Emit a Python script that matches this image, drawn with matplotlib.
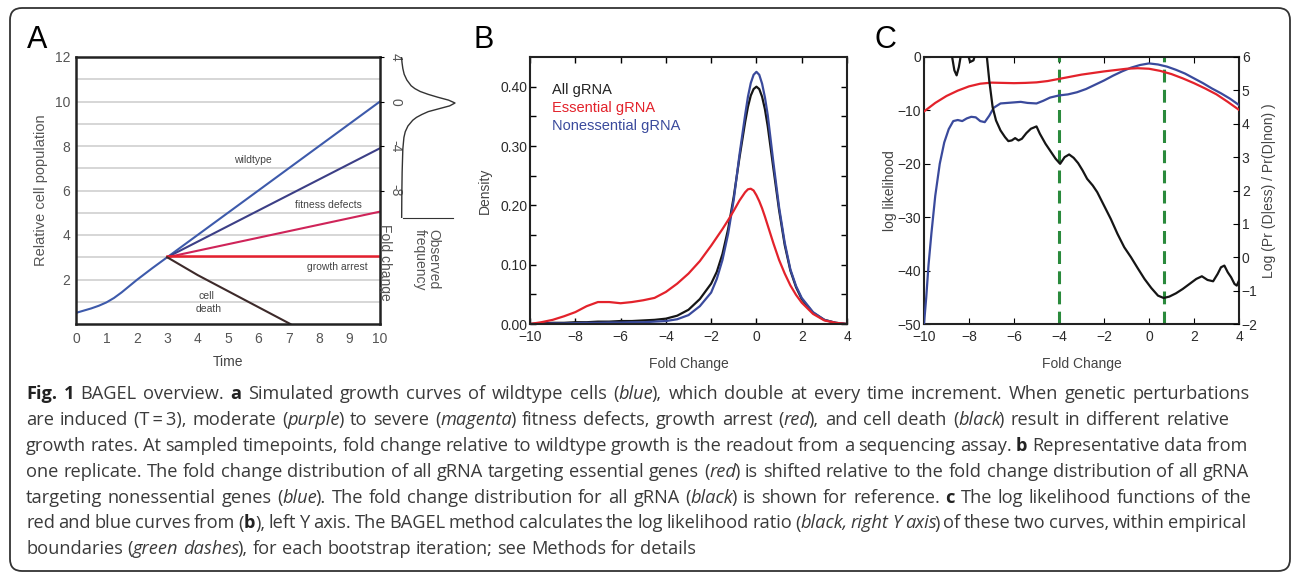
import numpy as np
import matplotlib.pyplot as plt
from matplotlib.patches import FancyBboxPatch

W, H = 1293, 574

# -----------------------------------
# DATA
# -----------------------------------

# panel A - simulated growth
time_wt = [0, 0.5, 0.75, 1, 1.25, 1.5, 1.75, 2, 2.5, 3, 10]
pop_wt = [0.5, 0.7, 0.82, 0.97, 1.17, 1.42, 1.7, 1.98, 2.5, 3.0, 10.0]
time_split = [3, 10]
pop_moderate = [3.0, 7.9]
pop_severe = [3.0, 5.05]
pop_arrest = [3.05, 3.05]
time_death = [3, 4, 7.05]
pop_death = [3.0, 2.2, 0.0]

# observed frequency (rotated) next to panel A
obs_fc = [4, 3.5, 3, 2.5, 2, 1.5, 1.25, 1, 0.75, 0.5, 0.25, 0, -0.25, -0.5,
          -0.75, -1, -1.25, -1.5, -2, -2.5, -3, -4, -6, -8, -10]
obs_freq = [0.0, 0.01, 0.025, 0.05, 0.1, 0.18, 0.25, 0.35, 0.5, 0.68, 0.88, 1.0,
            0.9, 0.7, 0.5, 0.38, 0.28, 0.21, 0.12, 0.07, 0.045, 0.025, 0.012,
            0.006, 0.003]

# panel B - fold change densities
fc_b = [-10, -9.5, -9, -8.5, -8, -7.5, -7, -6.5, -6, -5.5, -5, -4.5, -4, -3.5,
        -3, -2.5, -2, -1.75, -1.5, -1.25, -1, -0.75, -0.5, -0.375, -0.25,
        -0.125, 0, 0.125, 0.25, 0.375, 0.5, 0.75, 1, 1.25, 1.5, 1.75, 2, 2.5,
        3, 3.5, 4]
dens_all = [0.0, 0.001, 0.002, 0.002, 0.003, 0.003, 0.004, 0.004, 0.005, 0.005,
            0.006, 0.007, 0.009, 0.014, 0.024, 0.042, 0.068, 0.088, 0.118,
            0.16, 0.215, 0.28, 0.34, 0.366, 0.385, 0.396, 0.40, 0.396, 0.383,
            0.362, 0.333, 0.262, 0.192, 0.133, 0.09, 0.062, 0.042, 0.019,
            0.007, 0.002, 0.0]
dens_ess = [0.0, 0.003, 0.007, 0.013, 0.02, 0.03, 0.037, 0.037, 0.035, 0.037,
            0.040, 0.044, 0.054, 0.068, 0.085, 0.106, 0.132, 0.146, 0.16, 0.175,
            0.191, 0.208, 0.222, 0.227, 0.228, 0.225, 0.217, 0.207, 0.195,
            0.181, 0.166, 0.136, 0.108, 0.085, 0.065, 0.049, 0.036, 0.017,
            0.006, 0.002, 0.0]
dens_non = [0.0, 0.0005, 0.001, 0.001, 0.0015, 0.002, 0.002, 0.0025, 0.0025,
            0.003, 0.003, 0.004, 0.005, 0.008, 0.015, 0.03, 0.053, 0.076, 0.108,
            0.152, 0.21, 0.285, 0.352, 0.383, 0.406, 0.42, 0.425, 0.42, 0.405,
            0.382, 0.352, 0.272, 0.197, 0.137, 0.092, 0.064, 0.044, 0.02,
            0.007, 0.002, 0.0]

# panel C - log likelihoods
fc_ess = [-10, -9.5, -9, -8.5, -8, -7.5, -7, -6.5, -6, -5.5, -5, -4.5, -4, -3.5,
          -3, -2.5, -2, -1.5, -1, -0.5, 0, 0.5, 1, 1.5, 2, 2.5, 3, 3.5, 4]
ll_ess = [-10.2, -8.6, -7.3, -6.3, -5.5, -5.0, -4.8, -4.85, -4.9, -4.85, -4.75,
          -4.5, -4.1, -3.7, -3.3, -3.0, -2.7, -2.45, -2.2, -2.1, -2.2, -2.6,
          -3.2, -4.0, -4.9, -5.9, -7.0, -8.4, -9.9]
fc_non = [-10, -9.9, -9.8, -9.67, -9.5, -9.3, -9.1, -8.9, -8.7, -8.5, -8.3, -8.1,
          -7.9, -7.7, -7.5, -7.3, -7.1, -6.9, -6.6, -6.3, -6.0, -5.7, -5.4, -5.0,
          -4.7, -4.4, -4.0, -3.6, -3.2, -2.8, -2.4, -2.0, -1.6, -1.2, -0.8, -0.4,
          0, 0.4, 0.8, 1.2, 1.6, 2.0, 2.4, 2.8, 3.2, 3.6, 4.0]
ll_non = [-50, -45, -39, -33, -26, -20, -16, -13.5, -12, -11.8, -12, -11.5,
          -11.2, -11.3, -12.0, -12.2, -11, -9.5, -8.7, -8.6, -8.5, -8.4, -8.6,
          -8.7, -8.2, -7.6, -7.2, -7.0, -6.6, -6.0, -5.2, -4.4, -3.5, -2.7,
          -2.0, -1.5, -1.2, -1.4, -1.8, -2.4, -3.1, -4.0, -4.9, -5.9, -6.8,
          -7.8, -9.0]
fc_llr = [-8.85, -8.75, -8.65, -8.55, -8.45, -8.3, -8.1, -7.95, -7.8, -7.6, -7.4,
          -7.25, -7.1, -6.95, -6.8, -6.6, -6.4, -6.25, -6.1, -5.95, -5.8, -5.65,
          -5.45, -5.25, -5.0, -4.85, -4.6, -4.4, -4.15, -3.95, -3.75, -3.55,
          -3.35, -3.15, -2.95, -2.75, -2.5, -2.3, -2.0, -1.7, -1.4, -1.1, -0.8,
          -0.5, -0.2, 0.1, 0.4, 0.65, 0.9, 1.2, 1.5, 1.8, 2.1, 2.35, 2.6, 2.85,
          3.05, 3.2, 3.35, 3.5, 3.65, 3.8, 3.9, 4.0]
llr = [6.6, 6.0, 5.6, 5.45, 5.7, 6.3, 6.2, 5.85, 5.9, 6.4, 6.8, 6.3, 5.3, 4.5,
       4.1, 3.8, 3.6, 3.48, 3.5, 3.57, 3.5, 3.55, 3.72, 3.85, 3.92, 3.7, 3.4,
       3.2, 2.95, 2.8, 3.0, 3.08, 2.98, 2.82, 2.6, 2.35, 2.15, 1.95, 1.55, 1.15,
       0.7, 0.3, 0.0, -0.33, -0.65, -0.92, -1.15, -1.22, -1.18, -1.08, -0.95,
       -0.8, -0.65, -0.57, -0.68, -0.72, -0.5, -0.3, -0.25, -0.45, -0.6, -0.8,
       -0.85, -0.7]
boundaries = [-4, 0.68]

caption = [
    [("Fig. 1", "b"), (" BAGEL overview. ", "n"), ("a", "b"),
     (" Simulated growth curves of wildtype cells (", "n"), ("blue", "i"),
     ("), which double at every time increment. When genetic perturbations", "n")],
    [("are induced (T\u2009=\u20093), moderate (", "n"), ("purple", "i"),
     (") to severe (", "n"), ("magenta", "i"),
     (") fitness defects, growth arrest (", "n"), ("red", "i"),
     ("), and cell death (", "n"), ("black", "i"),
     (") result in different relative", "n")],
    [("growth rates. At sampled timepoints, fold change relative to wildtype "
      "growth is the readout from a sequencing assay. ", "n"), ("b", "b"),
     (" Representative data from", "n")],
    [("one replicate. The fold change distribution of all gRNA targeting "
      "essential genes (", "n"), ("red", "i"),
     (") is shifted relative to the fold change distribution of all gRNA", "n")],
    [("targeting nonessential genes (", "n"), ("blue", "i"),
     ("). The fold change distribution for all gRNA (", "n"), ("black", "i"),
     (") is shown for reference. ", "n"), ("c", "b"),
     (" The log likelihood functions of the", "n")],
    [("red and blue curves from (", "n"), ("b", "b"),
     ("), left Y axis. The BAGEL method calculates the log likelihood ratio (", "n"),
     ("black, right Y axis", "i"),
     (") of these two curves, within empirical", "n")],
    [("boundaries (", "n"), ("green dashes", "i"),
     ("), for each bootstrap iteration; see Methods for details", "n")],
]
# right edge of each caption line in the reference (None = ragged)
line_ends = [1250, 1229, 1248, 1249, 1252, 1246, None]

# -----------------------------------
# FIGURE
# -----------------------------------

plt.rcParams["font.family"] = ["Liberation Sans", "DejaVu Sans"]

fig = plt.figure(figsize=(W / 100, H / 100), dpi=100)


def px_axes(left, top, right, bottom, **kw):
    return fig.add_axes([left / W, 1 - bottom / H, (right - left) / W,
                         (bottom - top) / H], **kw)


bg = fig.add_axes([0, 0, 1, 1], zorder=-5)
bg.set_xlim(0, W)
bg.set_ylim(H, 0)
bg.axis("off")
bg.add_patch(FancyBboxPatch((10, 8), 1280, 563,
                            boxstyle="round,pad=0,rounding_size=12",
                            fc="white", ec="#333333", lw=1.3))

label_kw = dict(fontsize=22, color="black", va="top", ha="left")
bg.text(27, 25, "A", **label_kw)
bg.text(474, 25, "B", **label_kw)
bg.text(874, 25, "C", **label_kw)

# -----------------------------------
# PANEL A
# -----------------------------------

gray = "#555555"
ax_a = px_axes(76, 57, 380, 324)
for yv in range(1, 12):
    ax_a.axhline(yv, color="#cfcfcf", lw=1.2, zorder=0)
ax_a.plot(time_wt, pop_wt, color="#3d5aab", lw=1.5)
ax_a.plot(time_split, pop_moderate, color="#3c3f86", lw=1.5)
ax_a.plot(time_split, pop_severe, color="#cf2459", lw=1.5)
ax_a.plot(time_split, pop_arrest, color="#e5202e", lw=1.8)
ax_a.plot(time_death, pop_death, color="#3d2a2a", lw=1.5)
ax_a.set_xlim(0, 10)
ax_a.set_ylim(0, 12)
ax_a.set_xticks(range(0, 11))
ax_a.set_yticks(range(2, 13, 2))
ax_a.tick_params(length=0, labelsize=10, labelcolor=gray)
ax_a.tick_params(axis="y", pad=4)
ax_a.tick_params(axis="x", pad=6)
for s in ax_a.spines.values():
    s.set_linewidth(1.8)
    s.set_color("#222222")
ax_a.set_xlabel("Time", fontsize=10, color="#444444", labelpad=6)
ax_a.set_ylabel("Relative cell population", fontsize=10.5, color="#555555",
                labelpad=5)

small = dict(fontsize=7.5, color="#444444", ha="center", va="center")
ax_a.text(5.82, 7.37, "wildtype", **small)
ax_a.text(8.3, 5.35, "fitness defects", **small)
ax_a.text(8.6, 2.56, "growth arrest", **small)
ax_a.text(4.3, 1.26, "cell", **small)
ax_a.text(4.35, 0.67, "death", **small)

ax_a2 = ax_a.twinx()
ax_a2.set_ylim(-20, 4)
ax_a2.set_yticks([4, 0, -4, -8])
ax_a2.set_yticklabels(["4", "0", "-4", "-8"], rotation=270, va="center")
ax_a2.tick_params(length=3, labelsize=10, labelcolor=gray, pad=3)
ax_a2.set_ylabel("Fold change", fontsize=10, color=gray, rotation=270)
ax_a2.yaxis.set_label_coords(1.04, 0.23)
for s in ax_a2.spines.values():
    s.set_visible(False)

ax_s = px_axes(400, 57, 458, 218)
ax_s.plot(obs_freq, obs_fc, color="#333333", lw=1.0)
ax_s.set_ylim(-10, 4)
ax_s.set_xlim(-0.028, 1.056)
for k in ["top", "right", "left"]:
    ax_s.spines[k].set_visible(False)
ax_s.spines["bottom"].set_bounds(0.03, 0.96)
ax_s.spines["bottom"].set_color("#333333")
ax_s.set_xticks([])
ax_s.set_yticks([])
ax_s.patch.set_alpha(0)
bg.text(427, 229, "Observed\nfrequency", rotation=270, fontsize=10,
        color=gray, ha="center", va="top", multialignment="left",
        linespacing=0.95)

# -----------------------------------
# PANEL B
# -----------------------------------

dark = "#2b2b2b"
ax_b = px_axes(530, 57, 847, 324)
ax_b.plot(fc_b, dens_all, color="#151515", lw=1.6)
ax_b.plot(fc_b, dens_non, color="#3a4a9c", lw=1.6)
ax_b.plot(fc_b, dens_ess, color="#e3222b", lw=1.6)
ax_b.set_xlim(-10, 4)
ax_b.set_ylim(0, 0.45)
ax_b.set_xticks(range(-10, 5, 2))
ax_b.set_yticks([0, 0.1, 0.2, 0.3, 0.4])
ax_b.set_yticklabels(["0.00", "0.10", "0.20", "0.30", "0.40"])
ax_b.set_yticks([0.05, 0.15, 0.25, 0.35], minor=True)
ax_b.tick_params(which="both", direction="in", top=True, right=True,
                 labelsize=10, labelcolor=dark, length=4, width=1)
ax_b.tick_params(axis="x", pad=4)
ax_b.tick_params(axis="y", pad=2)
for s in ax_b.spines.values():
    s.set_linewidth(1.5)
    s.set_color("#222222")
ax_b.set_xlabel("Fold Change", fontsize=10, color="#444444", labelpad=10)
ax_b.set_ylabel("Density", fontsize=10, color="#444444", labelpad=6)
leg = dict(transform=ax_b.transAxes, fontsize=10.5, va="center", ha="left")
ax_b.text(0.07, 0.876, "All gRNA", color="#222222", **leg)
ax_b.text(0.07, 0.809, "Essential gRNA", color="#e3222b", **leg)
ax_b.text(0.07, 0.742, "Nonessential gRNA", color="#3a4a9c", **leg)

# -----------------------------------
# PANEL C
# -----------------------------------

ax_c = px_axes(924, 57, 1239, 324)
ax_c.plot(fc_non, ll_non, color="#3a4a9c", lw=1.6, zorder=3)
ax_c.plot(fc_ess, ll_ess, color="#e3222b", lw=1.6, zorder=3)
for bx in boundaries:
    ax_c.axvline(bx, color="#2a8a3c", lw=2.2, dashes=(4.2, 2.4), zorder=2)
ax_c.set_xlim(-10, 4)
ax_c.set_ylim(-50, 0)
ax_c.set_xticks(range(-10, 5, 2))
ax_c.set_yticks(range(-50, 1, 10))
ax_c.tick_params(direction="in", top=True, labelsize=10, labelcolor=dark,
                 length=4)
ax_c.tick_params(axis="x", pad=4)
ax_c.tick_params(axis="y", pad=2)
for s in ax_c.spines.values():
    s.set_linewidth(1.5)
    s.set_color("#222222")
ax_c.set_xlabel("Fold Change", fontsize=10, color="#444444", labelpad=10)
ax_c.set_ylabel("log likelihood", fontsize=10, color="#444444", labelpad=0)

ax_c2 = ax_c.twinx()
ax_c2.plot(fc_llr, llr, color="#151515", lw=1.6, zorder=4)
ax_c2.set_ylim(-2, 6)
ax_c2.set_yticks(range(-2, 7))
ax_c2.tick_params(direction="in", labelsize=10, labelcolor=dark, length=4,
                  pad=2)
ax_c2.set_ylabel("Log (Pr (D|ess) / Pr(D|non) )", fontsize=10,
                 color="#444444", labelpad=3)
for s in ax_c2.spines.values():
    s.set_visible(False)

# -----------------------------------
# CAPTION (justified, word by word)
# -----------------------------------

renderer = fig.canvas.get_renderer()
styles = {"n": dict(), "b": dict(weight="bold"), "i": dict(style="italic")}
cap_font = ["Open Sans", "DejaVu Sans"]
italic_kern = -1.8


def adv_width(txt, size, st):
    a = bg.text(0, 0, "|" + txt + "|", fontsize=size, family=cap_font, **styles[st])
    b = bg.text(0, 0, "||", fontsize=size, family=cap_font, **styles[st])
    w = a.get_window_extent(renderer).width - b.get_window_extent(renderer).width
    a.remove()
    b.remove()
    return w


def split_words(line):
    words = [[]]
    for txt, st in line:
        parts = txt.split(" ")
        for k, p in enumerate(parts):
            if k > 0:
                words.append([])
            if p:
                words[-1].append((p, st))
    return [w for w in words if w]


def frag_steps(w, size):
    steps = []
    for k, (t, st) in enumerate(w):
        step = adv_width(t, size, st)
        if st == "i" and k + 1 < len(w) and w[k + 1][1] != "i":
            step += italic_kern
        steps.append(step)
    return steps


def natural(line, size):
    words = split_words(line)
    total = sum(sum(frag_steps(w, size)) for w in words)
    return total + adv_width(" ", size, "n") * (len(words) - 1)


cap_left = 26
trial = 12
size_a = trial * (1229 - cap_left) / natural(caption[1], trial)
size_b = min(trial * (e - cap_left - 4) / natural(ln, trial)
             for ln, e in zip(caption, line_ends) if e)
cap_size = 0.5 * (size_a + size_b)
space = adv_width(" ", cap_size, "n")

for i, line in enumerate(caption):
    words = split_words(line)
    steps = [frag_steps(w, cap_size) for w in words]
    widths = [sum(s) for s in steps]
    gap = space
    if line_ends[i]:
        gap = (line_ends[i] - cap_left - sum(widths)) / (len(words) - 1)
    x = cap_left
    y = 399 + i * 25.9
    for w, st_list, ww in zip(words, steps, widths):
        xx = x
        for (t, st), step in zip(w, st_list):
            col = "#222222" if st == "b" else "#3a3a3a"
            bg.text(xx, y, t, fontsize=cap_size, family=cap_font, color=col,
                    va="baseline", ha="left", **styles[st])
            xx += step
        x += ww + gap

fig.savefig("out.png", dpi=100)
